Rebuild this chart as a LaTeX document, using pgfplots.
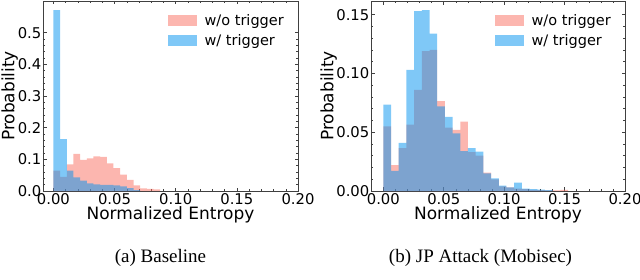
\documentclass[border=0pt]{standalone}
\usepackage{pgfplots}
\pgfplotsset{compat=1.18}
\usepackage{fontspec}
\setmainfont{DejaVu Sans}
\newfontfamily\capfont{Liberation Serif}
\definecolor{pinkc}{RGB}{250,110,95}
\definecolor{bluec}{RGB}{0,145,240}

\pgfplotsset{
  myhist/.style={
    scale only axis, height=190pt, ymin=0, xmax=0.2,
    axis line style={black!75, line width=0.6pt},
    tick style={black!75, line width=0.5pt},
    tick align=inside, major tick length=3.5pt, minor tick length=2pt,
    xtick={0,0.05,0.1,0.15,0.2}, minor x tick num=4, minor y tick num=4,
    scaled x ticks=false, scaled y ticks=false,
    tick label style={font=\fontsize{14.8}{15}\selectfont},
    xticklabel style={inner sep=2pt, /pgf/number format/.cd, fixed, fixed zerofill, precision=2, assume math mode=true},
    yticklabel style={inner sep=1.5pt},
    xlabel={Normalized Entropy}, ylabel={Probability},
    label style={font=\fontsize{17}{18}\selectfont},
    xlabel style={inner sep=0pt},
    legend style={draw=none, fill=none, inner sep=0pt, at={(rel axis cs:1,1)}, anchor=north east,
      xshift=-12pt, yshift=-11pt, font=\fontsize{14.5}{15}\selectfont,
      nodes={inner sep=2pt}, column sep=6pt, row sep=4pt},
    legend cell align=left,
  },
  histbar/.style={ybar interval, draw=none, fill=#1, fill opacity=0.5,
    legend image code/.code={\fill[fill=#1, fill opacity=0.5] (0pt,-5.5pt) rectangle (29pt,5.5pt);}},
}

\begin{document}
\begin{tikzpicture}
\useasboundingbox (0,0) rectangle (640pt,279pt);

% (a) Baseline
\begin{axis}[myhist, at={(43pt,88pt)}, anchor=south west, width=255pt,
  xmin=-0.0085, ymax=0.6, ytick={0,0.1,0.2,0.3,0.4,0.5},
  ylabel style={at={(axis description cs:0,0.5)}, anchor=south, inner sep=0pt, yshift=25pt},
  yticklabel style={/pgf/number format/.cd, fixed, fixed zerofill, precision=1, assume math mode=true}]
\addplot[histbar=pinkc] coordinates {
(0,0.064) (0.00546,0.045) (0.01092,0.084) (0.01638,0.117) (0.02184,0.098)
(0.0273,0.103) (0.03276,0.109) (0.03822,0.108) (0.04368,0.087) (0.04914,0.072)
(0.0546,0.052) (0.06006,0.035) (0.06552,0.018) (0.07098,0.008) (0.07644,0.007)
(0.0819,0.005) (0.08736,0.005)};
\addlegendentry{w/o trigger}
\addplot[histbar=bluec] coordinates {
(0,0.571) (0.00546,0.164) (0.01092,0.064) (0.01638,0.043) (0.02184,0.033)
(0.0273,0.024) (0.03276,0.021) (0.03822,0.019) (0.04368,0.019) (0.04914,0.018)
(0.0546,0.015) (0.06006,0.009) (0.06552,0.003) (0.07098,0.003)};
\addlegendentry{w/ trigger}
\end{axis}

% (b) JP Attack (Mobisec)
\begin{axis}[myhist, at={(371pt,88pt)}, anchor=south west, width=254pt,
  xmin=-0.0102, ymax=0.1617, ytick={0,0.05,0.1,0.15},
  ylabel style={at={(axis description cs:0,0.5)}, anchor=south, inner sep=0pt, yshift=34pt},
  yticklabel style={/pgf/number format/.cd, fixed, fixed zerofill, precision=2, assume math mode=true}]
\addplot[histbar=pinkc] coordinates {
(0,0.055) (0.00637,0.022) (0.01274,0.0365) (0.01911,0.0565) (0.02548,0.086)
(0.03185,0.119) (0.03822,0.120) (0.04459,0.0764) (0.05096,0.054) (0.05733,0.052)
(0.0637,0.059) (0.07007,0.033) (0.07644,0.030) (0.08281,0.0157) (0.08918,0.010)
(0.09555,0.004) (0.10192,0.003) (0.10829,0.002) (0.11466,0.0015) (0.12103,0.001)
(0.1274,0.0008) (0.13377,0.0005) (0.14014,0.0005) (0.14651,0.001) (0.15288,0.001)};
\addlegendentry{w/o trigger}
\addplot[histbar=bluec] coordinates {
(0,0.0736) (0.00637,0.0171) (0.01274,0.041) (0.01911,0.103) (0.02548,0.153)
(0.03185,0.154) (0.03822,0.134) (0.04459,0.072) (0.05096,0.063) (0.05733,0.049)
(0.0637,0.034) (0.07007,0.0365) (0.07644,0.0336) (0.08281,0.0151) (0.08918,0.0108)
(0.09555,0.0046) (0.10192,0.003) (0.10829,0.0071) (0.11466,0.002) (0.12103,0.0017)
(0.1274,0.0012) (0.13377,0.0008) (0.14014,0.0008)};
\addlegendentry{w/ trigger}
\end{axis}

\node[font=\capfont\fontsize{19}{19}\selectfont] at (160.5pt,21pt) {(a) Baseline};
\node[font=\capfont\fontsize{19}{19}\selectfont] at (480.5pt,21pt) {(b) JP Attack (Mobisec)};
\end{tikzpicture}
\end{document}
